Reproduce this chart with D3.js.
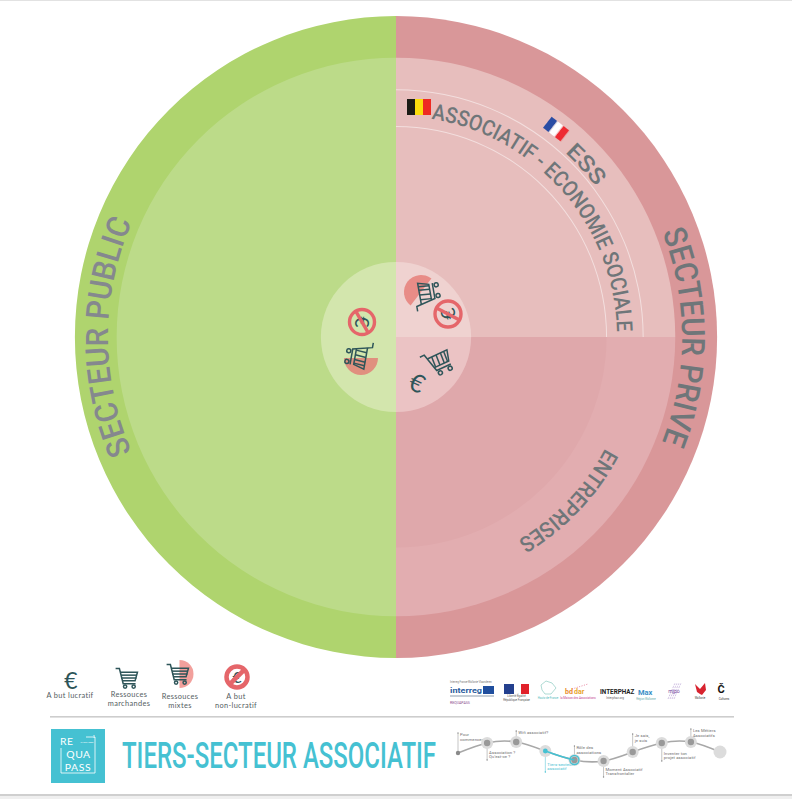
<!DOCTYPE html>
<html><head><meta charset="utf-8">
<script src="https://cdn.jsdelivr.net/npm/d3@7"></script>
<style>html,body{margin:0;padding:0;background:#fff}svg{display:block}</style>
</head><body><svg id="c" width="792" height="799"></svg>
<script>
// ---- values ----
const sectorNames = ["SECTEUR PRIVE", "SECTEUR PUBLIC"];
const sectorShares = [50, 50];
const privateNames = ["ASSOCIATIF - ECONOMIE SOCIALE", "ENTREPRISES"];
const privateShares = [50, 50];
const ringLevels = { centre: 23.4, enterprise: 65.6, ess: 77, middle: 87, outer: 100 };
const curvedLabels = ["SECTEUR PUBLIC", "SECTEUR PRIVE", "ASSOCIATIF - ECONOMIE SOCIALE", "ESS", "ENTREPRISES"];
const legendLabels = [["A but lucratif"], ["Ressouces", "marchandes"], ["Ressouces", "mixtes"], ["A but", "non-lucratif"]];
const timelineLabels = [["Pour", "commencer !"], ["Association ?", "Qu'est-ce ?"], ["Wifi associatif?"], ["Tiers-secteur", "associatif"], ["Rôle des", "associations"], ["Moment Associatif", "Transfrontalier"], ["Je sais,", "je suis"], ["Inventer ton", "projet associatif"], ["Les Métiers", "Associatifs"], []];
const timelineLevels = [8, 18, 19, 10, 1, 0, 9, 18, 19, 9];
const titleText = "TIERS-SECTEUR ASSOCIATIF";

// ---- setup ----
const svg = d3.select("#c");
const cx = 396, cy = 337;
const r = d3.scaleLinear().domain([0, 100]).range([0, 321]);
const FONT = "Roboto, 'DejaVu Sans', sans-serif";
const TEAL = "#45C1D2", DARK = "#2E5559", RED = "#E5666A";

svg.append("rect").attr("width", 792).attr("height", 1).attr("fill", "#e2e2e2");
svg.append("rect").attr("y", 794).attr("width", 792).attr("height", 2).attr("fill", "#cfcfcf");
svg.append("rect").attr("y", 796).attr("width", 792).attr("height", 3).attr("fill", "#efefef");

const disc = svg.append("g").attr("transform", `translate(${cx},${cy})`);
const pie = d3.pie().sort(null).value(d => d);
const halves = pie(sectorShares);          // [right, left], clockwise from the top
const quarter = d3.pie().sort(null).value(d => d).startAngle(0).endAngle(Math.PI)(privateShares);
const arc = (a, ro, ri = 0) => d3.arc().innerRadius(ri).outerRadius(ro)(a);

// outer ring & middle ring
disc.append("path").attr("d", arc(halves[1], r(ringLevels.outer))).attr("fill", "#AFD46E");
disc.append("path").attr("d", arc(halves[0], r(ringLevels.outer))).attr("fill", "#D99799");
disc.append("path").attr("d", arc(halves[1], r(ringLevels.middle))).attr("fill", "#BCDB89");
disc.append("path").attr("d", arc(quarter[0], r(ringLevels.middle))).attr("fill", "#E7BEBD");
disc.append("path").attr("d", arc(quarter[1], r(ringLevels.middle))).attr("fill", "#E2ADB0");
disc.append("path").attr("d", arc(quarter[1], r(ringLevels.enterprise))).attr("fill", "#DFA8AB");
// white thin lines
[ringLevels.enterprise, ringLevels.ess].forEach(l => {
  disc.append("path").attr("d", arc(quarter[0], r(l) + 0.5, r(l) - 0.5)).attr("fill", "#fff").attr("opacity", .5);
});
// centre
const cen = r(ringLevels.centre);
disc.append("path").attr("d", arc(halves[1], cen)).attr("fill", "#D3E6AD");
disc.append("path").attr("d", arc(quarter[0], cen)).attr("fill", "#EFD2D0");
disc.append("path").attr("d", arc(quarter[1], cen)).attr("fill", "#EBC3C4");

// curved labels
const defs = svg.append("defs");
defs.append("filter").attr("id", "soft").append("feGaussianBlur").attr("stdDeviation", .45);
function curved(i, rad, from, to, size, fill) {
  const p = d3.path();
  const rr = d => (d - 90) * Math.PI / 180;
  p.arc(0, 0, rad, rr(from), rr(to));
  defs.append("path").attr("id", "tp" + i).attr("d", p.toString());
  disc.append("text").attr("font-family", FONT).attr("font-size", size).attr("fill", fill).attr("font-weight", 500)
    .append("textPath").attr("href", "#tp" + i)
    .attr("textLength", rad * (to - from) * Math.PI / 180).attr("lengthAdjust", "spacingAndGlyphs")
    .text(curvedLabels[i]);
}
curved(0, 288, 246.5, 293.5, 32, "#85888E");
curved(1, 286, 68.5, 111.5, 32, "#6F7679");
curved(2, 221, 9.2, 88.6, 22, "#6F7679");
curved(3, 250, 42.5, 53, 22, "#6F7679");
curved(4, 237, 118, 149, 22, "#6F7679");

// flags
const belgium = svg.append("g").attr("transform", "translate(419,107)").attr("filter", "url(#soft)");
["#1c1a17", "#FBDD0B", "#EE2A24"].forEach((c, i) => belgium.append("rect").attr("x", -12 + i * 8).attr("y", -8).attr("width", 8).attr("height", 16).attr("fill", c));
const france = svg.append("g").attr("transform", "translate(556,129) rotate(38)").attr("filter", "url(#soft)");
["#2A4EA4", "#fff", "#EE2A30"].forEach((c, i) => france.append("rect").attr("x", -11 + i * 7.4).attr("y", -7).attr("width", 7.4).attr("height", 14).attr("fill", c));

// icons
function cart(sel, x, y, rot, s, vertical) {
  const g = sel.append("g").attr("transform", `translate(${x},${y}) rotate(${rot}) scale(${s})`)
    .attr("fill", "none").attr("stroke", DARK).attr("stroke-width", 1.5 / Math.max(s, .8));
  g.append("path").attr("d", "M-12,-10 L-8,-10 L-4,6 L9,6");
  g.append("path").attr("d", "M-7,-6 L11,-6 L8.5,3 L-4.7,3");
  if (vertical) [-3, 1, 5, 8].forEach(v => g.append("path").attr("d", `M${v},-6 L${v - .6},3`));
  else [-3, 0].forEach(v => g.append("path").attr("d", `M${-6.2},${v} L10,${v}`));
  [-2, 7].forEach(v => g.append("circle").attr("cx", v).attr("cy", 9).attr("r", 1.7));
}
function euro(sel, x, y, rot, size) {
  sel.append("text").attr("transform", `translate(${x},${y}) rotate(${rot})`)
    .attr("text-anchor", "middle").attr("dy", "0.36em").attr("font-family", "Lato, sans-serif")
    .attr("font-size", size).attr("fill", DARK).text("€");
}
function noProfit(sel, x, y, rad, w, slash, euroRot) {
  euro(sel, x, y, euroRot, rad * 1.5);
  const g = sel.append("g").attr("transform", `translate(${x},${y})`).attr("fill", "none").attr("stroke", RED).attr("stroke-width", w);
  g.append("circle").attr("r", rad);
  const a = slash * Math.PI / 180;
  g.append("line").attr("x1", -rad * Math.cos(a)).attr("y1", -rad * Math.sin(a)).attr("x2", rad * Math.cos(a)).attr("y2", rad * Math.sin(a));
}
const piePink = "#E88C87";
const seg = (sel, x, y, a0, rad, col) => sel.append("path")
  .attr("transform", `translate(${x},${y})`)
  .attr("d", d3.arc().innerRadius(0).outerRadius(rad).startAngle(a0).endAngle(a0 + Math.PI)())
  .attr("fill", col);
seg(svg, 421, 292, -Math.PI * 0.79, 17, piePink);
seg(svg, 361, 358, Math.PI / 2, 17, "#E0907F");
cart(svg, 427, 295, -100, 1.2, true);
cart(svg, 359, 355, 100, 1.2, true);
cart(svg, 438, 362, -25, 1.2, true);
euro(svg, 417, 383, 25, 25);
noProfit(svg, 362, 322, 12.5, 3.4, 60, 90);
noProfit(svg, 448, 314, 13, 3.4, 28, -100);

// legend
const legendX = [70, 129, 180, 236];
const legendY = [696, 695, 697, 697];
legendLabels.forEach((ls, i) => ls.forEach((t, j) =>
  svg.append("text").attr("x", legendX[i]).attr("y", legendY[i] + 2 + j * 9).attr("text-anchor", "middle")
    .attr("font-family", "Lato, sans-serif").attr("font-size", 7.4).attr("letter-spacing", .35).attr("fill", "#55605F").text(t)));
euro(svg, 71, 681, 0, 23);
cart(svg, 127, 678, 0, .95, false);
seg(svg, 179.5, 674, 0, 14, "#F2A09C");
cart(svg, 178, 674, 0, .95, false);
noProfit(svg, 237, 677, 10.5, 4.5, 135, 0);

// separator
svg.append("rect").attr("x", 50).attr("y", 716).attr("width", 684).attr("height", 1.6).attr("fill", "#cdcdcd");

// logos
const small = (x, y, t, fs, col, w, anchor) => svg.append("text").attr("x", x).attr("y", y).attr("font-family", FONT).attr("font-size", fs)
  .attr("font-weight", w || 400).attr("fill", col || "#666").attr("text-anchor", anchor || "start").text(t);
small(450, 683, "Interreg France-Wallonie-Vlaanderen", 2.6, "#777");
small(450, 693, "interreg", 8, "#2A5C9E", 700).attr("textLength", 32).attr("lengthAdjust", "spacingAndGlyphs");
svg.append("rect").attr("x", 483).attr("y", 686).attr("width", 11).attr("height", 8).attr("fill", "#1F4E9E");
svg.append("rect").attr("x", 450).attr("y", 695).attr("width", 44).attr("height", 2).attr("fill", "#c6ced6");
small(450, 704, "REQUAPASS", 3.6, "#8A4E8E");
svg.append("rect").attr("x", 504).attr("y", 684).attr("width", 10).attr("height", 10).attr("fill", "#24408E");
svg.append("rect").attr("x", 521).attr("y", 684).attr("width", 8).attr("height", 10).attr("fill", "#E1222B");
small(516.5, 697, "Liberté Égalité", 2.9, "#555", 400, "middle");
small(516.5, 700.8, "République Française", 2.8, "#555", 400, "middle");
svg.append("path").attr("d", "M541,685 L546,681 L552,683 L556,688 L551,694 L545,694 L542,690 Z").attr("fill", "none").attr("stroke", "#8CCBC2").attr("stroke-width", .7);
small(548, 699, "Hauts-de-France", 2.8, "#5BB", 400, "middle");
small(565, 693.5, "bd", 7, "#E98A2B", 700);
small(574, 693.5, "dar", 7, "#E9A42B", 700);
svg.append("line").attr("x1", 572).attr("y1", 689).attr("x2", 588).attr("y2", 684).attr("stroke", "#E56A8A").attr("stroke-width", .8).attr("stroke-dasharray", "1 1.5");
small(578, 699, "la Maison des Associations", 2.9, "#C2408F", 400, "middle");
small(600, 693.5, "INTERPHAZ", 6.3, "#222", 700);
small(615, 699, "Interphaz.org", 3, "#666", 400, "middle");
small(638, 694.5, "Max", 7.5, "#3B8FC7", 700);
small(646, 699.8, "Région Wallonne", 2.6, "#6AA", 400, "middle");
d3.range(4).forEach(i => svg.append("line").attr("x1", 668 + i * 2).attr("y1", 699).attr("x2", 675 + i * 2).attr("y2", 683).attr("stroke", "#B49BD0").attr("stroke-width", .6).attr("stroke-dasharray", "2 1"));
small(674, 693, "mjpo", 5.2, "#7A4E9E", 400, "middle");
svg.append("path").attr("d", "M695,684 L700,689 L705,683 L706,690 L702,695 L700,694 L697,692 Z").attr("fill", "#D8232F");
small(700, 699, "Wallonie", 2.8, "#444", 400, "middle");
small(721, 693, "Č", 11, "#111", 700, "middle");
small(724, 699.5, "Cultures", 2.9, "#333", 400, "middle");

// brand square
svg.append("rect").attr("x", 51).attr("y", 729).attr("width", 54).attr("height", 54).attr("fill", TEAL);
svg.append("path").attr("d", "M61,748 V773 H95 V737 H86").attr("fill", "none").attr("stroke", "#fff").attr("stroke-width", .8);
const bt = (x, y, t, fs, anchor) => svg.append("text").attr("x", x).attr("y", y).attr("font-family", "Lato, sans-serif").attr("font-weight", 400)
  .attr("font-size", fs).attr("fill", "#fff").attr("text-anchor", anchor || "middle").text(t);
bt(60, 745, "RE", 10.4, "start").attr("letter-spacing", .5);
bt(78.5, 757.8, "QUA", 10.4).attr("letter-spacing", .5);
bt(78, 770.5, "PASS", 10.4).attr("letter-spacing", .6);
bt(87, 743, "PARTAGER", 2.6);
bt(94, 738, "1", 4);

// title
svg.append("text").attr("x", 122).attr("y", 768).attr("font-family", FONT).attr("font-weight", 500)
  .attr("font-size", 36).attr("fill", TEAL).attr("textLength", 314).attr("lengthAdjust", "spacingAndGlyphs").text(titleText);

// timeline
const tx = d3.scaleLinear().domain([0, timelineLevels.length - 1]).range([458, 720]);
const ty = d3.scaleLinear().domain([0, 19]).range([761, 742]);
const line = d3.line().x(d => tx(d.i)).y(d => ty(d.v)).curve(d3.curveNatural);
const pts = timelineLevels.map((v, i) => ({ i, v }));
const tl = svg.append("g");
const base = tl.append("path").attr("d", line(pts)).attr("fill", "none").attr("stroke", "#a8a8a8").attr("stroke-width", 1.6);
// length along the curve at a given x, so the highlighted stretch follows the same curve
const lengthAt = x => {
  const node = base.node(); let lo = 0, hi = node.getTotalLength();
  for (let k = 0; k < 30; k++) { const m = (lo + hi) / 2; if (node.getPointAtLength(m).x < x) lo = m; else hi = m; }
  return lo;
};
const l3 = lengthAt(tx(3)), l4 = lengthAt(tx(4));
// leaders + labels (each label is one text element with one tspan per line)
const labelUp = [true, false, true, false, true, false, true, false, true];
const leaderLen = [20, 17, 11, 21, 14, 16, 18, 18, 13];
timelineLabels.forEach((ls, i) => {
  if (!ls.length) return;
  const x = tx(i), y0 = ty(timelineLevels[i]);
  const col = i === 3 ? TEAL : "#8a8a8a";
  const end = labelUp[i] ? y0 - leaderLen[i] : y0 + leaderLen[i];
  tl.append("line").attr("x1", x).attr("x2", x).attr("y1", y0).attr("y2", end).attr("stroke", col).attr("stroke-width", .5);
  tl.append("circle").attr("cx", x).attr("cy", end).attr("r", .7).attr("fill", col);
  const first = labelUp[i] ? end + 3.4 : end - 6 - (ls.length - 2) * 4.2;
  const t = tl.append("text").attr("font-family", FONT).attr("font-size", 4.2).attr("letter-spacing", .1).attr("fill", i === 3 ? TEAL : "#6e6e6e");
  ls.forEach((s, j) => t.append("tspan").attr("x", x + 2).attr("y", first + j * 4.2).text(s));
});
const nodes = tl.selectAll("g.n").data(pts).join("g").attr("transform", d => `translate(${tx(d.i)},${ty(d.v)})`);
nodes.filter(d => d.i > 0).append("circle").attr("r", d => d.i === 9 ? 6.5 : 6).attr("fill", "#dcdcdc");
tl.append("path").attr("d", line(pts)).attr("fill", "none").attr("stroke", TEAL).attr("stroke-width", 1.6)
  .attr("stroke-dasharray", `0 ${l3} ${l4 - l3} 2000`);
nodes.filter(d => d.i === 0).append("circle").attr("r", 2.2).attr("fill", "#8a8a8a");
nodes.filter(d => d.i > 0 && d.i < 9).append("circle").attr("r", d => d.i === 3 ? 2.4 : 3.2).attr("fill", d => d.i === 3 ? TEAL : "#999");
nodes.filter(d => d.i === 4).append("circle").attr("r", 4.5).attr("fill", "none").attr("stroke", TEAL).attr("stroke-width", 1.4);
</script></body></html>
